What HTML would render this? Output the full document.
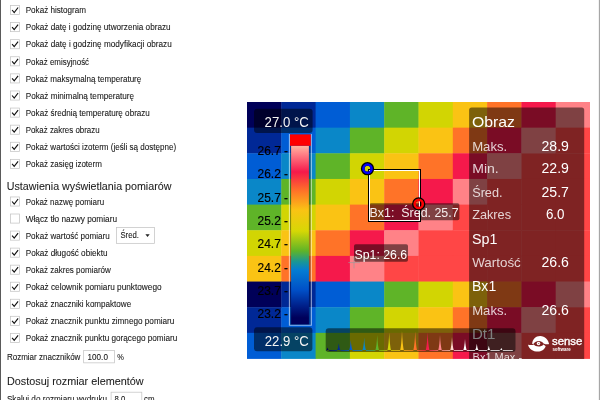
<!DOCTYPE html>
<html lang="pl"><head><meta charset="utf-8"><title>Ustawienia</title>
<style>
html,body{margin:0;padding:0;}
body{width:600px;height:400px;overflow:hidden;background:#fff;position:relative;font-family:"Liberation Sans",sans-serif;color:#1a1a1a;}
.edge{position:absolute;left:0;top:0;width:1px;height:400px;background:#5a5a5a;}
.redge{position:absolute;left:598px;top:0;width:2px;height:400px;background:linear-gradient(to right,#f2f2f2 0,#f2f2f2 50%,#a6a6a6 50%,#a6a6a6 100%);}
#left{position:absolute;left:0;top:0;}
#img{position:absolute;left:247px;top:102px;width:343px;height:256.5px;overflow:hidden;}
</style></head><body>
<div class="edge"></div><div class="redge"></div>
<svg id="left" width="600" height="400" viewBox="0 0 600 400" font-family="Liberation Sans, sans-serif">
<rect x="10.45" y="5.45" width="9.1" height="9.1" fill="#fff" stroke="#c4c4c4" stroke-width="0.75"/>
<path d="M12.1 10.00 L14.2 12.50 L18.1 7.50" fill="none" stroke="#111" stroke-width="1.15"/>
<text x="25.70" y="13.20" font-size="8.7" fill="#161616" stroke="#161616" stroke-width="0.08" textLength="60.4" lengthAdjust="spacingAndGlyphs">Pokaż histogram</text>
<rect x="10.45" y="22.55" width="9.1" height="9.1" fill="#fff" stroke="#c4c4c4" stroke-width="0.75"/>
<path d="M12.1 27.10 L14.2 29.60 L18.1 24.60" fill="none" stroke="#111" stroke-width="1.15"/>
<text x="25.70" y="30.30" font-size="8.7" fill="#161616" stroke="#161616" stroke-width="0.08" textLength="144.9" lengthAdjust="spacingAndGlyphs">Pokaż datę i godzinę utworzenia obrazu</text>
<rect x="10.45" y="39.65" width="9.1" height="9.1" fill="#fff" stroke="#c4c4c4" stroke-width="0.75"/>
<path d="M12.1 44.20 L14.2 46.70 L18.1 41.70" fill="none" stroke="#111" stroke-width="1.15"/>
<text x="25.70" y="47.40" font-size="8.7" fill="#161616" stroke="#161616" stroke-width="0.08" textLength="146.0" lengthAdjust="spacingAndGlyphs">Pokaż datę i godzinę modyfikacji obrazu</text>
<rect x="10.45" y="56.75" width="9.1" height="9.1" fill="#fff" stroke="#c4c4c4" stroke-width="0.75"/>
<path d="M12.1 61.30 L14.2 63.80 L18.1 58.80" fill="none" stroke="#111" stroke-width="1.15"/>
<text x="25.70" y="64.50" font-size="8.7" fill="#161616" stroke="#161616" stroke-width="0.08" textLength="63.4" lengthAdjust="spacingAndGlyphs">Pokaż emisyjność</text>
<rect x="10.45" y="73.85" width="9.1" height="9.1" fill="#fff" stroke="#c4c4c4" stroke-width="0.75"/>
<path d="M12.1 78.40 L14.2 80.90 L18.1 75.90" fill="none" stroke="#111" stroke-width="1.15"/>
<text x="25.70" y="81.60" font-size="8.7" fill="#161616" stroke="#161616" stroke-width="0.08" textLength="115.6" lengthAdjust="spacingAndGlyphs">Pokaż maksymalną temperaturę</text>
<rect x="10.45" y="90.95" width="9.1" height="9.1" fill="#fff" stroke="#c4c4c4" stroke-width="0.75"/>
<path d="M12.1 95.50 L14.2 98.00 L18.1 93.00" fill="none" stroke="#111" stroke-width="1.15"/>
<text x="25.70" y="98.70" font-size="8.7" fill="#161616" stroke="#161616" stroke-width="0.08" textLength="108.4" lengthAdjust="spacingAndGlyphs">Pokaż minimalną temperaturę</text>
<rect x="10.45" y="108.05" width="9.1" height="9.1" fill="#fff" stroke="#c4c4c4" stroke-width="0.75"/>
<path d="M12.1 112.60 L14.2 115.10 L18.1 110.10" fill="none" stroke="#111" stroke-width="1.15"/>
<text x="25.70" y="115.80" font-size="8.7" fill="#161616" stroke="#161616" stroke-width="0.08" textLength="124.2" lengthAdjust="spacingAndGlyphs">Pokaż średnią temperaturę obrazu</text>
<rect x="10.45" y="125.15" width="9.1" height="9.1" fill="#fff" stroke="#c4c4c4" stroke-width="0.75"/>
<path d="M12.1 129.70 L14.2 132.20 L18.1 127.20" fill="none" stroke="#111" stroke-width="1.15"/>
<text x="25.70" y="132.90" font-size="8.7" fill="#161616" stroke="#161616" stroke-width="0.08" textLength="73.9" lengthAdjust="spacingAndGlyphs">Pokaż zakres obrazu</text>
<rect x="10.45" y="142.25" width="9.1" height="9.1" fill="#fff" stroke="#c4c4c4" stroke-width="0.75"/>
<path d="M12.1 146.80 L14.2 149.30 L18.1 144.30" fill="none" stroke="#111" stroke-width="1.15"/>
<text x="25.70" y="150.00" font-size="8.7" fill="#161616" stroke="#161616" stroke-width="0.08" textLength="150.5" lengthAdjust="spacingAndGlyphs">Pokaż wartości izoterm (jeśli są dostępne)</text>
<rect x="10.45" y="159.35" width="9.1" height="9.1" fill="#fff" stroke="#c4c4c4" stroke-width="0.75"/>
<path d="M12.1 163.90 L14.2 166.40 L18.1 161.40" fill="none" stroke="#111" stroke-width="1.15"/>
<text x="25.70" y="167.10" font-size="8.7" fill="#161616" stroke="#161616" stroke-width="0.08" textLength="76.2" lengthAdjust="spacingAndGlyphs">Pokaż zasięg izoterm</text>
<rect x="10.45" y="196.95" width="9.1" height="9.1" fill="#fff" stroke="#c4c4c4" stroke-width="0.75"/>
<path d="M12.1 201.50 L14.2 204.00 L18.1 199.00" fill="none" stroke="#111" stroke-width="1.15"/>
<text x="25.70" y="204.70" font-size="8.7" fill="#161616" stroke="#161616" stroke-width="0.08" textLength="78.4" lengthAdjust="spacingAndGlyphs">Pokaż nazwę pomiaru</text>
<rect x="10.45" y="214.00" width="9.1" height="9.1" fill="#fff" stroke="#c4c4c4" stroke-width="0.75"/>
<text x="25.70" y="221.75" font-size="8.7" fill="#161616" stroke="#161616" stroke-width="0.08" textLength="91.3" lengthAdjust="spacingAndGlyphs">Włącz tło nazwy pomiaru</text>
<rect x="10.45" y="231.05" width="9.1" height="9.1" fill="#fff" stroke="#c4c4c4" stroke-width="0.75"/>
<path d="M12.1 235.60 L14.2 238.10 L18.1 233.10" fill="none" stroke="#111" stroke-width="1.15"/>
<text x="25.70" y="238.80" font-size="8.7" fill="#161616" stroke="#161616" stroke-width="0.08" textLength="84.1" lengthAdjust="spacingAndGlyphs">Pokaż wartość pomiaru</text>
<rect x="10.45" y="248.10" width="9.1" height="9.1" fill="#fff" stroke="#c4c4c4" stroke-width="0.75"/>
<path d="M12.1 252.65 L14.2 255.15 L18.1 250.15" fill="none" stroke="#111" stroke-width="1.15"/>
<text x="25.70" y="255.85" font-size="8.7" fill="#161616" stroke="#161616" stroke-width="0.08" textLength="81.8" lengthAdjust="spacingAndGlyphs">Pokaż długość obiektu</text>
<rect x="10.45" y="265.15" width="9.1" height="9.1" fill="#fff" stroke="#c4c4c4" stroke-width="0.75"/>
<path d="M12.1 269.70 L14.2 272.20 L18.1 267.20" fill="none" stroke="#111" stroke-width="1.15"/>
<text x="25.70" y="272.90" font-size="8.7" fill="#161616" stroke="#161616" stroke-width="0.08" textLength="85.2" lengthAdjust="spacingAndGlyphs">Pokaż zakres pomiarów</text>
<rect x="10.45" y="282.20" width="9.1" height="9.1" fill="#fff" stroke="#c4c4c4" stroke-width="0.75"/>
<path d="M12.1 286.75 L14.2 289.25 L18.1 284.25" fill="none" stroke="#111" stroke-width="1.15"/>
<text x="25.70" y="289.95" font-size="8.7" fill="#161616" stroke="#161616" stroke-width="0.08" textLength="135.9" lengthAdjust="spacingAndGlyphs">Pokaż celownik pomiaru punktowego</text>
<rect x="10.45" y="299.25" width="9.1" height="9.1" fill="#fff" stroke="#c4c4c4" stroke-width="0.75"/>
<path d="M12.1 303.80 L14.2 306.30 L18.1 301.30" fill="none" stroke="#111" stroke-width="1.15"/>
<text x="25.70" y="307.00" font-size="8.7" fill="#161616" stroke="#161616" stroke-width="0.08" textLength="105.5" lengthAdjust="spacingAndGlyphs">Pokaż znaczniki kompaktowe</text>
<rect x="10.45" y="316.30" width="9.1" height="9.1" fill="#fff" stroke="#c4c4c4" stroke-width="0.75"/>
<path d="M12.1 320.85 L14.2 323.35 L18.1 318.35" fill="none" stroke="#111" stroke-width="1.15"/>
<text x="25.70" y="324.05" font-size="8.7" fill="#161616" stroke="#161616" stroke-width="0.08" textLength="148.7" lengthAdjust="spacingAndGlyphs">Pokaż znacznik punktu zimnego pomiaru</text>
<rect x="10.45" y="333.35" width="9.1" height="9.1" fill="#fff" stroke="#c4c4c4" stroke-width="0.75"/>
<path d="M12.1 337.90 L14.2 340.40 L18.1 335.40" fill="none" stroke="#111" stroke-width="1.15"/>
<text x="25.70" y="341.10" font-size="8.7" fill="#161616" stroke="#161616" stroke-width="0.08" textLength="151.6" lengthAdjust="spacingAndGlyphs">Pokaż znacznik punktu gorącego pomiaru</text>
<text x="6.80" y="189.50" font-size="11.5" fill="#1c1c1c" stroke="#1c1c1c" stroke-width="0.08" textLength="164.6" lengthAdjust="spacingAndGlyphs">Ustawienia wyświetlania pomiarów</text>
<text x="7.00" y="384.90" font-size="11.5" fill="#1c1c1c" stroke="#1c1c1c" stroke-width="0.08" textLength="136.6" lengthAdjust="spacingAndGlyphs">Dostosuj rozmiar elementów</text>
<g fill="#fff" stroke="#c4c4c4" stroke-width="0.75"><rect x="116.45" y="227.55" width="38.1" height="15.8"/><rect x="83.65" y="350.45" width="30.8" height="12.4"/><rect x="111.1" y="392.2" width="30.7" height="12.4"/></g>
<path d="M145.4 234.3 L149.7 234.3 L147.55 237 Z" fill="#222"/>
<text x="120.40" y="237.70" font-size="8.7" fill="#161616" stroke="#161616" stroke-width="0.08" textLength="18.5" lengthAdjust="spacingAndGlyphs">Śred.</text>
<text x="6.90" y="360.00" font-size="8.7" fill="#161616" stroke="#161616" stroke-width="0.08" textLength="73.5" lengthAdjust="spacingAndGlyphs">Rozmiar znaczników</text>
<text x="87.60" y="360.00" font-size="8.7" fill="#161616" stroke="#161616" stroke-width="0.08" textLength="20.3" lengthAdjust="spacingAndGlyphs">100.0</text>
<text x="117.20" y="360.00" font-size="8.7" fill="#161616" stroke="#161616" stroke-width="0.08" textLength="6.6" lengthAdjust="spacingAndGlyphs">%</text>
<text x="6.90" y="401.80" font-size="8.7" fill="#161616" stroke="#161616" stroke-width="0.08" textLength="100.2" lengthAdjust="spacingAndGlyphs">Skaluj do rozmiaru wydruku</text>
<text x="114.60" y="401.80" font-size="8.7" fill="#161616" stroke="#161616" stroke-width="0.08" textLength="10.8" lengthAdjust="spacingAndGlyphs">8.0</text>
<text x="144.00" y="401.80" font-size="8.7" fill="#161616" stroke="#161616" stroke-width="0.08" textLength="10.5" lengthAdjust="spacingAndGlyphs">cm</text>
</svg>
<svg id="img" width="343" height="256.5" viewBox="247 102 343 256.5" font-family="Liberation Sans, sans-serif">
<rect x="247.00" y="102.00" width="34.70" height="26.05" fill="#000058"/>
<rect x="281.30" y="102.00" width="34.70" height="26.05" fill="#002896"/>
<rect x="315.60" y="102.00" width="34.70" height="26.05" fill="#005dd5"/>
<rect x="349.90" y="102.00" width="34.70" height="26.05" fill="#0a87c8"/>
<rect x="384.20" y="102.00" width="34.70" height="26.05" fill="#5fb428"/>
<rect x="418.50" y="102.00" width="34.70" height="26.05" fill="#d2d503"/>
<rect x="452.80" y="102.00" width="34.70" height="26.05" fill="#fac314"/>
<rect x="487.10" y="102.00" width="34.70" height="26.05" fill="#ff7328"/>
<rect x="521.40" y="102.00" width="34.70" height="26.05" fill="#f5194b"/>
<rect x="555.70" y="102.00" width="34.70" height="26.05" fill="#ff8287"/>
<rect x="247.00" y="127.65" width="34.70" height="26.05" fill="#002896"/>
<rect x="281.30" y="127.65" width="34.70" height="26.05" fill="#005dd5"/>
<rect x="315.60" y="127.65" width="34.70" height="26.05" fill="#0a87c8"/>
<rect x="349.90" y="127.65" width="34.70" height="26.05" fill="#5fb428"/>
<rect x="384.20" y="127.65" width="34.70" height="26.05" fill="#d2d503"/>
<rect x="418.50" y="127.65" width="34.70" height="26.05" fill="#fac314"/>
<rect x="452.80" y="127.65" width="34.70" height="26.05" fill="#ff7328"/>
<rect x="487.10" y="127.65" width="34.70" height="26.05" fill="#f5194b"/>
<rect x="521.40" y="127.65" width="34.70" height="26.05" fill="#ff8287"/>
<rect x="555.70" y="127.65" width="34.70" height="26.05" fill="#ff4646"/>
<rect x="247.00" y="153.30" width="34.70" height="26.05" fill="#005dd5"/>
<rect x="281.30" y="153.30" width="34.70" height="26.05" fill="#0a87c8"/>
<rect x="315.60" y="153.30" width="34.70" height="26.05" fill="#5fb428"/>
<rect x="349.90" y="153.30" width="34.70" height="26.05" fill="#d2d503"/>
<rect x="384.20" y="153.30" width="34.70" height="26.05" fill="#fac314"/>
<rect x="418.50" y="153.30" width="34.70" height="26.05" fill="#ff7328"/>
<rect x="452.80" y="153.30" width="34.70" height="26.05" fill="#f5194b"/>
<rect x="487.10" y="153.30" width="34.70" height="26.05" fill="#ff8287"/>
<rect x="521.40" y="153.30" width="34.70" height="26.05" fill="#ff4646"/>
<rect x="555.70" y="153.30" width="34.70" height="26.05" fill="#ff4646"/>
<rect x="247.00" y="178.95" width="34.70" height="26.05" fill="#0a87c8"/>
<rect x="281.30" y="178.95" width="34.70" height="26.05" fill="#5fb428"/>
<rect x="315.60" y="178.95" width="34.70" height="26.05" fill="#d2d503"/>
<rect x="349.90" y="178.95" width="34.70" height="26.05" fill="#fac314"/>
<rect x="384.20" y="178.95" width="34.70" height="26.05" fill="#ff7328"/>
<rect x="418.50" y="178.95" width="34.70" height="26.05" fill="#f5194b"/>
<rect x="452.80" y="178.95" width="34.70" height="26.05" fill="#ff8287"/>
<rect x="487.10" y="178.95" width="34.70" height="26.05" fill="#ff4646"/>
<rect x="521.40" y="178.95" width="34.70" height="26.05" fill="#ff4646"/>
<rect x="555.70" y="178.95" width="34.70" height="26.05" fill="#ff4646"/>
<rect x="247.00" y="204.60" width="34.70" height="26.05" fill="#5fb428"/>
<rect x="281.30" y="204.60" width="34.70" height="26.05" fill="#d2d503"/>
<rect x="315.60" y="204.60" width="34.70" height="26.05" fill="#fac314"/>
<rect x="349.90" y="204.60" width="34.70" height="26.05" fill="#ff7328"/>
<rect x="384.20" y="204.60" width="34.70" height="26.05" fill="#f5194b"/>
<rect x="418.50" y="204.60" width="34.70" height="26.05" fill="#ff8287"/>
<rect x="452.80" y="204.60" width="34.70" height="26.05" fill="#ff4646"/>
<rect x="487.10" y="204.60" width="34.70" height="26.05" fill="#ff4646"/>
<rect x="521.40" y="204.60" width="34.70" height="26.05" fill="#ff4646"/>
<rect x="555.70" y="204.60" width="34.70" height="26.05" fill="#ff4646"/>
<rect x="247.00" y="230.25" width="34.70" height="26.05" fill="#d2d503"/>
<rect x="281.30" y="230.25" width="34.70" height="26.05" fill="#fac314"/>
<rect x="315.60" y="230.25" width="34.70" height="26.05" fill="#ff7328"/>
<rect x="349.90" y="230.25" width="34.70" height="26.05" fill="#f5194b"/>
<rect x="384.20" y="230.25" width="34.70" height="26.05" fill="#ff8287"/>
<rect x="418.50" y="230.25" width="34.70" height="26.05" fill="#ff4646"/>
<rect x="452.80" y="230.25" width="34.70" height="26.05" fill="#ff4646"/>
<rect x="487.10" y="230.25" width="34.70" height="26.05" fill="#ff4646"/>
<rect x="521.40" y="230.25" width="34.70" height="26.05" fill="#ff4646"/>
<rect x="555.70" y="230.25" width="34.70" height="26.05" fill="#ff4646"/>
<rect x="247.00" y="255.90" width="34.70" height="26.05" fill="#fac314"/>
<rect x="281.30" y="255.90" width="34.70" height="26.05" fill="#ff7328"/>
<rect x="315.60" y="255.90" width="34.70" height="26.05" fill="#f5194b"/>
<rect x="349.90" y="255.90" width="34.70" height="26.05" fill="#ff8287"/>
<rect x="384.20" y="255.90" width="34.70" height="26.05" fill="#ff4646"/>
<rect x="418.50" y="255.90" width="34.70" height="26.05" fill="#ff4646"/>
<rect x="452.80" y="255.90" width="34.70" height="26.05" fill="#ff4646"/>
<rect x="487.10" y="255.90" width="34.70" height="26.05" fill="#ff4646"/>
<rect x="521.40" y="255.90" width="34.70" height="26.05" fill="#ff4646"/>
<rect x="555.70" y="255.90" width="34.70" height="26.05" fill="#ff4646"/>
<rect x="247.00" y="281.55" width="34.70" height="26.05" fill="#000058"/>
<rect x="281.30" y="281.55" width="34.70" height="26.05" fill="#002896"/>
<rect x="315.60" y="281.55" width="34.70" height="26.05" fill="#005dd5"/>
<rect x="349.90" y="281.55" width="34.70" height="26.05" fill="#0a87c8"/>
<rect x="384.20" y="281.55" width="34.70" height="26.05" fill="#5fb428"/>
<rect x="418.50" y="281.55" width="34.70" height="26.05" fill="#d2d503"/>
<rect x="452.80" y="281.55" width="34.70" height="26.05" fill="#fac314"/>
<rect x="487.10" y="281.55" width="34.70" height="26.05" fill="#ff7328"/>
<rect x="521.40" y="281.55" width="34.70" height="26.05" fill="#f5194b"/>
<rect x="555.70" y="281.55" width="34.70" height="26.05" fill="#ff8287"/>
<rect x="247.00" y="307.20" width="34.70" height="26.05" fill="#002896"/>
<rect x="281.30" y="307.20" width="34.70" height="26.05" fill="#005dd5"/>
<rect x="315.60" y="307.20" width="34.70" height="26.05" fill="#0a87c8"/>
<rect x="349.90" y="307.20" width="34.70" height="26.05" fill="#5fb428"/>
<rect x="384.20" y="307.20" width="34.70" height="26.05" fill="#d2d503"/>
<rect x="418.50" y="307.20" width="34.70" height="26.05" fill="#fac314"/>
<rect x="452.80" y="307.20" width="34.70" height="26.05" fill="#ff7328"/>
<rect x="487.10" y="307.20" width="34.70" height="26.05" fill="#f5194b"/>
<rect x="521.40" y="307.20" width="34.70" height="26.05" fill="#ff8287"/>
<rect x="555.70" y="307.20" width="34.70" height="26.05" fill="#ff4646"/>
<rect x="247.00" y="332.85" width="34.70" height="26.05" fill="#005dd5"/>
<rect x="281.30" y="332.85" width="34.70" height="26.05" fill="#0a87c8"/>
<rect x="315.60" y="332.85" width="34.70" height="26.05" fill="#5fb428"/>
<rect x="349.90" y="332.85" width="34.70" height="26.05" fill="#d2d503"/>
<rect x="384.20" y="332.85" width="34.70" height="26.05" fill="#fac314"/>
<rect x="418.50" y="332.85" width="34.70" height="26.05" fill="#ff7328"/>
<rect x="452.80" y="332.85" width="34.70" height="26.05" fill="#f5194b"/>
<rect x="487.10" y="332.85" width="34.70" height="26.05" fill="#ff8287"/>
<rect x="521.40" y="332.85" width="34.70" height="26.05" fill="#ff4646"/>
<rect x="555.70" y="332.85" width="34.70" height="26.05" fill="#ff4646"/>
<rect x="254" y="108.8" width="58.6" height="24.1" rx="3" fill="#000" fill-opacity="0.5"/>
<rect x="254" y="327.3" width="58.4" height="24" rx="3" fill="#000" fill-opacity="0.5"/>
<text x="264.6" y="126.5" font-size="14.1" fill="#f4f4f4" textLength="44.2" lengthAdjust="spacingAndGlyphs">27.0 °C</text>
<text x="264.8" y="346.1" font-size="14.1" fill="#f4f4f4" textLength="44" lengthAdjust="spacingAndGlyphs">22.9 °C</text>
<text x="288.1" y="154.9" font-size="12.3" fill="#000" stroke="#000" stroke-width="0.15" text-anchor="end" textLength="30.6" lengthAdjust="spacingAndGlyphs">26.7 -</text>
<text x="288.1" y="178.2" font-size="12.3" fill="#000" stroke="#000" stroke-width="0.15" text-anchor="end" textLength="30.6" lengthAdjust="spacingAndGlyphs">26.2 -</text>
<text x="288.1" y="201.6" font-size="12.3" fill="#000" stroke="#000" stroke-width="0.15" text-anchor="end" textLength="30.6" lengthAdjust="spacingAndGlyphs">25.7 -</text>
<text x="288.1" y="225.0" font-size="12.3" fill="#000" stroke="#000" stroke-width="0.15" text-anchor="end" textLength="30.6" lengthAdjust="spacingAndGlyphs">25.2 -</text>
<text x="288.1" y="248.3" font-size="12.3" fill="#000" stroke="#000" stroke-width="0.15" text-anchor="end" textLength="30.6" lengthAdjust="spacingAndGlyphs">24.7 -</text>
<text x="288.1" y="271.6" font-size="12.3" fill="#000" stroke="#000" stroke-width="0.15" text-anchor="end" textLength="30.6" lengthAdjust="spacingAndGlyphs">24.2 -</text>
<text x="288.1" y="295.0" font-size="12.3" fill="#000" stroke="#000" stroke-width="0.15" text-anchor="end" textLength="30.6" lengthAdjust="spacingAndGlyphs">23.7 -</text>
<text x="288.1" y="318.4" font-size="12.3" fill="#000" stroke="#000" stroke-width="0.15" text-anchor="end" textLength="30.6" lengthAdjust="spacingAndGlyphs">23.2 -</text>
<defs><linearGradient id="bg" x1="0" y1="0" x2="0" y2="1"><stop offset="0.0011" stop-color="rgb(255,182,158)"/><stop offset="0.0403" stop-color="rgb(255,135,138)"/><stop offset="0.1466" stop-color="rgb(245,25,75)"/><stop offset="0.2529" stop-color="rgb(255,115,40)"/><stop offset="0.3593" stop-color="rgb(250,195,20)"/><stop offset="0.4768" stop-color="rgb(215,215,5)"/><stop offset="0.5887" stop-color="rgb(95,180,40)"/><stop offset="0.6503" stop-color="rgb(25,150,150)"/><stop offset="0.6950" stop-color="rgb(5,125,210)"/><stop offset="0.8069" stop-color="rgb(0,80,200)"/><stop offset="0.8965" stop-color="rgb(0,32,138)"/><stop offset="0.9636" stop-color="rgb(0,0,90)"/></linearGradient></defs>
<rect x="290" y="145.8" width="20.8" height="179.2" fill="#000018" fill-opacity="0.35"/>
<path d="M289.45 134 L289.45 325.25 L311.35 325.25 L311.35 134" fill="none" stroke="#fff" stroke-opacity="0.55" stroke-width="1.15"/>
<rect x="291.1" y="145.8" width="17.8" height="178.5" fill="url(#bg)"/>
<rect x="290" y="134.4" width="20.8" height="11.4" fill="#ff0000"/>
<rect x="369.3" y="203.3" width="90.1" height="17" rx="1.8" fill="#000" fill-opacity="0.5"/>
<rect x="354" y="244.3" width="54" height="17.4" rx="1.8" fill="#000" fill-opacity="0.5"/>
<path d="M348.3 262.6 H360 M354 257 V268.3" stroke="#9a9a9a" stroke-opacity="0.85" stroke-width="0.8" fill="none"/>
<rect x="368.5" y="169.5" width="52" height="52" fill="none" stroke="#000" stroke-width="1"/>
<rect x="369.5" y="170.5" width="50" height="50" fill="none" stroke="#fff" stroke-width="1"/>
<text x="369.6" y="217.1" font-size="12.1" fill="#f6eeee" textLength="89" lengthAdjust="spacingAndGlyphs" xml:space="preserve">Bx1:  Śred. 25.7</text>
<text x="354.6" y="258.6" font-size="12.3" fill="#fff" textLength="52.6" lengthAdjust="spacingAndGlyphs">Sp1: 26.6</text>
<circle cx="367.5" cy="168.7" r="4.75" fill="none" stroke="#000" stroke-width="3.8"/>
<circle cx="367.5" cy="168.7" r="4.1" fill="none" stroke="#0000ff" stroke-width="2.5"/>
<circle cx="418.7" cy="203.9" r="4.75" fill="none" stroke="#000" stroke-width="3.8"/>
<circle cx="418.7" cy="203.9" r="4.1" fill="none" stroke="#ff0000" stroke-width="2.5"/>
<rect x="469.1" y="107.5" width="115.1" height="270" rx="2.5" fill="#000" fill-opacity="0.5"/>
<text x="472.0" y="127.1" font-size="14.4" fill="#fff" fill-opacity="1" text-anchor="start" textLength="43" lengthAdjust="spacingAndGlyphs">Obraz</text>
<text x="472.0" y="243.7" font-size="14.4" fill="#fff" fill-opacity="1" text-anchor="start" textLength="25.4" lengthAdjust="spacingAndGlyphs">Sp1</text>
<text x="472.0" y="291.4" font-size="14.4" fill="#fff" fill-opacity="1" text-anchor="start" textLength="24.2" lengthAdjust="spacingAndGlyphs">Bx1</text>
<text x="472.0" y="339.3" font-size="14.4" fill="#fff" fill-opacity="1" text-anchor="start" textLength="23.4" lengthAdjust="spacingAndGlyphs">Dt1</text>
<text x="472.2" y="150.5" font-size="13.5" fill="#fff" fill-opacity="0.8" text-anchor="start" textLength="35" lengthAdjust="spacingAndGlyphs">Maks.</text>
<text x="555.2" y="150.5" font-size="13.75" fill="#fff" fill-opacity="1" text-anchor="middle" textLength="27.4" lengthAdjust="spacingAndGlyphs">28.9</text>
<text x="472.2" y="173.4" font-size="13.5" fill="#fff" fill-opacity="0.8" text-anchor="start" textLength="26.6" lengthAdjust="spacingAndGlyphs">Min.</text>
<text x="555.2" y="173.4" font-size="13.75" fill="#fff" fill-opacity="1" text-anchor="middle" textLength="27.4" lengthAdjust="spacingAndGlyphs">22.9</text>
<text x="472.2" y="196.8" font-size="13.5" fill="#fff" fill-opacity="0.8" text-anchor="start" textLength="30.3" lengthAdjust="spacingAndGlyphs">Śred.</text>
<text x="555.2" y="196.8" font-size="13.75" fill="#fff" fill-opacity="1" text-anchor="middle" textLength="27.4" lengthAdjust="spacingAndGlyphs">25.7</text>
<text x="472.2" y="219.3" font-size="13.5" fill="#fff" fill-opacity="0.8" text-anchor="start" textLength="38.8" lengthAdjust="spacingAndGlyphs">Zakres</text>
<text x="555.2" y="219.3" font-size="13.75" fill="#fff" fill-opacity="1" text-anchor="middle" textLength="18.6" lengthAdjust="spacingAndGlyphs">6.0</text>
<text x="472.2" y="267" font-size="13.5" fill="#fff" fill-opacity="0.8" text-anchor="start" textLength="48.6" lengthAdjust="spacingAndGlyphs">Wartość</text>
<text x="555.2" y="267" font-size="13.75" fill="#fff" fill-opacity="1" text-anchor="middle" textLength="27.4" lengthAdjust="spacingAndGlyphs">26.6</text>
<text x="472.2" y="314.8" font-size="13.5" fill="#fff" fill-opacity="0.8" text-anchor="start" textLength="35" lengthAdjust="spacingAndGlyphs">Maks.</text>
<text x="555.2" y="314.8" font-size="13.75" fill="#fff" fill-opacity="1" text-anchor="middle" textLength="27.4" lengthAdjust="spacingAndGlyphs">26.6</text>
<text x="472.6" y="360.8" font-size="10.5" fill="#fff" fill-opacity="0.8" text-anchor="start" textLength="49.5" lengthAdjust="spacingAndGlyphs">Bx1.Max -</text>
<rect x="325.7" y="328.3" width="189.8" height="23.8" rx="3" fill="#000" fill-opacity="0.5"/>
<defs><linearGradient id="hg" gradientUnits="userSpaceOnUse" x1="326" y1="0" x2="514" y2="0"><stop offset="0.0080" stop-color="rgb(0,0,88)"/><stop offset="0.0681" stop-color="rgb(0,40,150)"/><stop offset="0.1319" stop-color="rgb(0,93,213)"/><stop offset="0.2032" stop-color="rgb(10,135,200)"/><stop offset="0.2723" stop-color="rgb(95,180,40)"/><stop offset="0.3362" stop-color="rgb(210,213,3)"/><stop offset="0.4043" stop-color="rgb(250,195,20)"/><stop offset="0.4745" stop-color="rgb(255,115,40)"/><stop offset="0.5404" stop-color="rgb(245,25,75)"/><stop offset="0.6064" stop-color="rgb(255,130,135)"/><stop offset="0.6702" stop-color="rgb(255,215,205)"/><stop offset="0.7394" stop-color="rgb(255,255,255)"/><stop offset="0.8021" stop-color="rgb(255,255,255)"/><stop offset="0.8660" stop-color="rgb(255,255,255)"/><stop offset="0.9324" stop-color="rgb(255,255,255)"/></linearGradient></defs>
<path d="M326.5 350.7 L325.6 350.7 Q327.0 349.7 327.5 347.4 Q328.0 349.7 329.4 350.7 L336.9 350.7 Q338.3 348.4 338.8 343.2 Q339.3 348.4 340.7 350.7 L348.9 350.7 Q350.3 347.5 350.8 339.9 Q351.3 347.5 352.7 350.7 L362.3 350.7 Q363.7 346.7 364.2 337.4 Q364.7 346.7 366.1 350.7 L375.3 350.7 Q376.7 346.0 377.2 334.9 Q377.7 346.0 379.1 350.7 L387.3 350.7 Q388.7 345.2 389.2 332.4 Q389.7 345.2 391.1 350.7 L400.1 350.7 Q401.5 344.7 402.0 330.7 Q402.5 344.7 403.9 350.7 L413.3 350.7 Q414.7 344.8 415.2 331.2 Q415.7 344.8 417.1 350.7 L425.7 350.7 Q427.1 345.1 427.6 332.2 Q428.1 345.1 429.5 350.7 L438.1 350.7 Q439.5 346.0 440.0 335.0 Q440.5 346.0 441.9 350.7 L450.1 350.7 Q451.5 346.6 452.0 337.0 Q452.5 346.6 453.9 350.7 L463.1 350.7 Q464.5 347.2 465.0 339.0 Q465.5 347.2 466.9 350.7 L474.9 350.7 Q476.3 348.6 476.8 343.7 Q477.3 348.6 478.7 350.7 L486.9 350.7 Q488.3 349.2 488.8 345.7 Q489.3 349.2 490.7 350.7 L499.4 350.7 Q500.8 349.8 501.3 347.7 Q501.8 349.8 503.2 350.7 L512.8 350.7 L512.8 350.0 L326.5 350.0 Z" fill="url(#hg)"/>
<path d="M532.23 344.08 C532.23 339.35 535.75 336.05 540.15 336.05 C545.10 336.05 548.40 339.90 549.06 344.08 C547.52 344.52 545.32 344.30 543.56 343.42 C541.80 340.12 535.75 339.90 533.66 343.64 C533.22 343.86 532.67 344.08 532.23 344.08 Z" fill="#fff"/><path d="M528.05 344.63 C530.25 345.40 532.45 345.18 533.66 344.52 C535.75 347.16 541.25 347.16 543.56 344.41 L545.65 346.28 C544.55 349.80 541.25 351.56 537.95 351.56 C533.00 351.56 528.82 348.70 528.05 344.63 Z" fill="#fff"/><circle cx="538.50" cy="343.42" r="1.75" fill="#fff"/><circle cx="538.72" cy="343.53" r="0.5" fill="#7a2222"/>
<text x="552" y="345.4" font-size="10.5" fill="#fff" stroke="#fff" stroke-width="0.35" textLength="30.4" lengthAdjust="spacingAndGlyphs">sense</text>
<text x="552.4" y="350.9" font-size="4.9" font-weight="bold" fill="#fff" textLength="18.3" lengthAdjust="spacingAndGlyphs">software</text>
</svg>
</body></html>
